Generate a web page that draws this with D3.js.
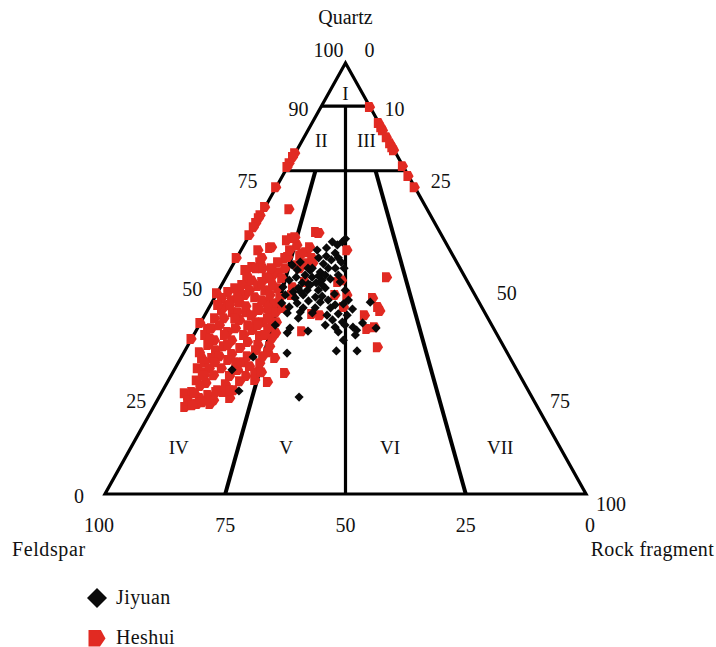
<!DOCTYPE html>
<html>
<head>
<meta charset="utf-8">
<script src="https://cdn.jsdelivr.net/npm/d3@7"></script>
<style>
  html, body { margin: 0; padding: 0; background: #fff; }
  svg text { font-family: "Liberation Serif", "DejaVu Serif", serif; fill: #111; }
</style>
</head>
<body>
<svg id="chart" width="716" height="647"></svg>
<script>
// QFR ternary diagram: Quartz (top), Feldspar (left), Rock fragment (right). Values are [Q, F, R] in %.

const seriesNames = ["Jiyuan", "Heshui"];

const jiyuanData = [
  [58.5,23.5,18.0],[57.8,22.8,19.4],[58.5,21.4,20.1],[59.2,20.4,20.4],[57.1,25.4,17.5],[56.6,27.6,15.8],
  [55.9,24.2,19.9],[54.3,25.8,19.9],[54.8,28.2,17.0],[53.4,27.9,18.7],[53.8,24.0,22.2],[52.4,31.6,16.0],
  [52.0,34.0,14.0],[51.5,29.5,19.0],[50.8,33.0,16.2],[50.3,31.8,17.9],[49.0,31.6,19.4],[49.9,28.2,21.9],
  [50.8,26.1,23.1],[49.2,26.5,24.3],[49.0,34.5,16.5],[48.7,33.4,17.9],[47.8,35.9,16.3],[48.0,39.0,13.0],
  [47.3,34.3,18.4],[47.3,32.0,20.7],[47.8,30.3,21.9],[46.9,37.4,15.7],[46.2,35.7,18.1],[45.7,33.4,20.9],
  [46.2,39.4,14.4],[46.4,29.1,24.5],[44.8,35.3,19.9],[44.3,37.9,17.8],[43.4,40.0,16.6],[44.5,33.0,22.5],
  [44.3,41.1,14.6],[43.2,37.2,19.6],[43.2,34.7,22.1],[43.9,30.2,25.9],[44.1,28.4,27.5],[42.9,27.1,30.0],
  [42.0,35.9,22.1],[42.0,41.1,16.9],[40.8,39.4,19.8],[41.5,33.1,25.4],[41.8,30.6,27.6],[40.4,32.5,27.1],
  [39.9,30.7,29.4],[39.2,34.6,26.2],[38.7,32.8,28.5],[39.2,30.5,30.3],[38.7,29.1,32.2],[39.7,26.6,33.7],
  [38.0,28.7,33.3],[39.2,45.0,15.8],[38.5,42.3,19.2],[37.8,38.9,23.3],[37.4,43.4,19.2],[37.6,32.7,29.7],
  [36.9,29.5,33.6],[44.5,22.6,32.9],[38.5,24.4,37.1],[33.2,35.3,31.5],[33.2,31.0,35.8],[32.7,45.8,21.5],
  [22.5,48.4,29.1],[31.8,53.3,14.9],[28.8,59.2,12.0],[23.9,60.2,15.9],[53.8,32.5,13.7],[55.2,26.4,18.4],
  [52.4,27.4,20.2],[53.1,34.5,12.4],[54.8,24.1,21.1],[52.4,24.1,23.5],[47.3,26.4,26.3],[45.0,26.9,28.1],
  [41.5,28.9,29.6],[35.7,32.6,31.7],[50.3,35.1,14.6],[49.6,36.9,13.5],[42.2,38.3,19.5],[45.9,31.9,22.2],
  [43.2,31.5,25.3],[51.9,31.4,16.7],[49.6,30.1,20.3],[45.0,31.1,23.9],[52.4,25.9,21.7],
  [48.5,33.1,18.4],[50.6,30.3,19.1],[46.9,35.9,17.2],[52.4,30.7,16.9],[50.8,28.8,20.4],[45.5,37.7,16.8],
  [48.5,30.6,20.9]
];

const heshuiData = [
  // quartz–feldspar side
  [79.1,20.9,0],[78.2,21.8,0],[76.8,23.2,0],[75.9,24.1,0],[71.2,28.8,0],[66.6,33.4,0],[64.7,35.3,0],
  [64.0,36.0,0],[62.9,37.1,0],[61.9,38.1,0],[60.1,39.9,0],[54.8,45.2,0],[46.6,53.4,0],[39.7,60.3,0],[36.0,64.0,0],
  // quartz–rock fragment side
  [89.8,0,10.2],[86.1,0,13.9],[85.1,0,14.9],[84.4,0,15.6],[82.8,0,17.2],[81.4,0,18.6],[80.5,0,19.5],
  [79.8,0,20.2],[76.1,0,23.9],[73.8,0,26.2],[71.2,0,28.8],
  // interior
  [66.1,28.6,5.3],[57.3,36.6,6.1],[56.6,39.8,3.6],[53.8,40.8,5.4],[52.7,43.0,4.3],[50.8,45.0,4.2],[52.4,42.2,5.4],
  [58.9,32.7,8.4],[59.4,31.4,9.2],[60.8,25.7,13.5],[60.6,25.1,14.3],[57.3,28.7,14.0],[56.1,30.1,13.8],[57.1,37.1,5.8],
  [54.8,39.9,5.3],[52.4,40.9,6.7],[50.8,39.6,9.6],[51.5,38.2,10.3],[52.4,36.3,11.3],[53.1,33.3,13.6],[53.6,31.2,15.2],
  [54.8,29.5,15.7],[55.4,31.7,12.9],[57.8,31.1,11.1],[55.0,34.4,10.6],[50.1,38.1,11.8],[50.3,41.2,8.5],[49.2,45.6,5.2],
  [46.9,48.8,4.3],[44.5,49.7,5.8],[42.2,52.3,5.5],[42.2,49.4,8.4],[43.2,46.7,10.1],[44.5,44.0,11.5],[43.9,43.1,13.0],
  [41.5,44.9,13.6],[39.9,44.3,15.8],[39.9,47.2,12.9],[48.0,36.9,15.1],[49.2,33.8,17.0],[49.6,25.9,24.5],[56.6,21.3,22.1],
  [49.2,26.9,23.9],[46.2,29.0,24.8],[46.2,26.5,27.3],[43.4,28.6,28.0],[41.5,25.2,33.3],[45.5,21.5,33.0],[43.4,21.5,35.1],
  [42.5,21.5,36.0],[38.7,24.5,36.8],[38.3,26.3,35.4],[34.1,26.2,39.7],[50.3,16.2,33.5],[37.8,40.1,22.1],[41.8,36.0,22.2],
  [41.5,34.5,24.0],[59.6,30.6,9.8],[55.9,31.0,13.1],[54.8,35.1,10.1],[52.4,39.1,8.5],[50.1,41.0,8.9],[46.2,38.0,15.8],
  [44.3,42.5,13.2],[43.2,44.4,12.4],[39.2,45.6,15.2],[36.2,47.1,16.7],[32.9,49.6,17.5],[31.6,48.8,19.6],[28.1,48.5,23.4],
  [26.0,53.1,20.9],[30.4,52.5,17.1],[22.3,62.8,14.9],[43.8,52.7,3.5],[38.3,59.4,2.3],[31.6,64.0,4.4],[29.2,66.1,4.7],
  [26.4,67.7,5.9],[23.0,71.2,5.8],[23.0,67.0,10.0],[24.1,64.4,11.5],[20.2,73.2,6.6],[23.4,71.7,4.9],[53.6,29.9,16.5],
  [52.4,33.2,14.4],
  [45.5,52.9,1.6],[46.9,50.9,2.2],[47.8,49.0,3.2],[48.5,47.2,4.3],[49.6,44.6,5.8],[48.3,44.0,7.7],[47.3,43.0,9.7],
  [46.2,47.7,6.1],[45.0,51.1,3.9],[45.7,45.9,8.4],[45.0,44.8,10.2],[46.2,42.5,11.3],[47.8,40.1,12.1],[48.5,40.8,10.7],
  [40.8,56.7,2.5],[42.7,54.3,3.0],[43.9,52.0,4.1],[42.2,51.2,6.6],[43.6,48.8,7.6],[41.5,48.7,9.8],[42.7,46.4,10.9],
  [40.8,45.7,13.5],[42.2,43.3,14.5],[40.8,54.8,4.4],[40.4,51.7,7.9],[39.9,48.6,11.5],[43.2,41.5,15.3],
  [36.9,60.7,2.4],[38.5,58.5,3.0],[39.2,56.5,4.3],[37.6,55.6,6.8],[38.5,53.5,8.0],[36.9,52.6,10.5],[38.1,50.3,11.6],
  [36.7,49.4,13.9],[38.5,46.8,14.7],[37.4,45.7,16.9],[35.7,59.3,5.0],[35.7,55.7,8.6],[35.3,52.6,12.1],[34.6,50.8,14.6],
  [32.9,63.8,3.3],[34.6,61.2,4.2],[33.4,60.2,6.4],[34.3,58.1,7.6],[32.5,57.3,10.2],[33.9,54.9,11.2],[32.0,54.3,13.7],
  [33.4,51.9,14.7],[32.0,51.1,16.9],[31.6,61.9,6.5],[31.1,58.8,10.1],[30.6,55.8,13.6],[34.3,48.5,17.2],[30.6,63.9,5.5],
  [28.3,65.5,6.2],[29.2,63.6,7.2],[27.6,63.5,8.9],[29.2,61.1,9.7],[27.4,60.3,12.3],[28.8,57.9,13.3],[27.4,56.9,15.7],
  [25.8,66.0,8.2],[25.5,62.1,12.4],[26.2,58.8,15.0],[28.3,54.6,17.1],
  [23.7,70.0,6.3],[25.1,67.6,7.3],[23.7,63.4,12.9],[24.1,61.1,14.8],[22.3,69.1,8.6],[21.8,66.4,11.8],
  [20.9,70.3,8.8],[21.3,69.0,9.7],[21.8,71.8,6.4],
  [43.9,54.5,1.6],[47.3,46.2,6.5],[49.2,42.7,8.1],[40.8,52.5,6.7],[39.2,50.6,10.2],[34.6,57.1,8.3],
  [36.2,60.0,3.8],[29.7,55.0,15.3],[30.6,57.4,12.0],[32.0,60.1,7.9],[27.6,65.4,7.0],[23.7,65.0,11.3],
  [23.4,69.6,7.0],[30.6,61.8,7.6],[24.1,61.9,14.0],[20.9,67.6,11.5],[20.6,71.4,8.0],[36.9,56.6,6.5],
  [39.2,48.5,12.3],[45.5,49.5,5.0],[45.5,40.8,13.7],[36.9,48.2,14.9],[26.5,55.5,18.0],[28.3,53.2,18.5],
  [52.0,44.8,3.2],[53.8,37.1,9.1],[56.6,33.2,10.2]
];

// Side labels (percent values written along each edge)
const quartzTicks = [100, 90, 75, 50, 25, 0];        // left edge, quartz %
const rockTicks = [0, 10, 25, 50, 75, 100];          // right edge, rock fragment %
const feldsparTicks = [100, 75, 50, 25, 0];          // bottom edge, feldspar %

// Classification fields and their label points [Q, F, R]
const fieldNames = ["I", "II", "III", "IV", "V", "VI", "VII"];
const fieldLabelPoints = [
  [92.8, 3.6, 3.6], [81.9, 14.1, 4.0], [81.9, 4.7, 13.4],
  [10.7, 79.3, 10.0], [10.7, 57.0, 32.3], [10.7, 35.4, 53.9], [10.7, 12.5, 76.8]
];

// Boundary segments between fields, endpoints in [Q, F, R]
const boundaries = [
  [[90, 10, 0], [90, 0, 10]],
  [[75, 25, 0], [75, 0, 25]],
  [[90, 5, 5], [0, 50, 50]],
  [[75, 18.75, 6.25], [0, 75, 25]],
  [[75, 6.25, 18.75], [0, 25, 75]]
];

const svg = d3.select("#chart");

// Horizontal position follows R + Q/2, vertical follows Q.
const x = d3.scaleLinear().domain([0, 100]).range([105, 586]);
const y = d3.scaleLinear().domain([0, 100]).range([494, 63]);
const px = d => x(d[2] + d[0] / 2);
const py = d => y(d[0]);

const lineGen = d3.line().x(px).y(py);

// Outer triangle
svg.append("path")
  .attr("d", lineGen([[100, 0, 0], [0, 100, 0], [0, 0, 100]]) + "Z")
  .attr("fill", "none").attr("stroke", "#000").attr("stroke-width", 3.2)
  .attr("stroke-linejoin", "miter").attr("stroke-miterlimit", 20);

// Field boundaries
svg.append("g").selectAll("path").data(boundaries).join("path")
  .attr("d", d => lineGen(d))
  .attr("fill", "none").attr("stroke", "#000")
  .attr("stroke-width", (d, i) => i >= 3 ? 4 : 3.2);

// Field labels
svg.append("g").selectAll("text").data(fieldNames).join("text")
  .attr("x", (d, i) => px(fieldLabelPoints[i]))
  .attr("y", (d, i) => py(fieldLabelPoints[i]) + 6)
  .attr("text-anchor", "middle").attr("font-size", 19)
  .text(d => d);

// Edge labels
const fs = 20;
const leftOffsets = [[-2, -6], [-13, 10], [-28, 17], [-23, 17], [-19, 22], [-21, 9]];
svg.append("g").selectAll("text").data(quartzTicks).join("text")
  .attr("x", (d, i) => px([d, 100 - d, 0]) + leftOffsets[i][0])
  .attr("y", (d, i) => py([d, 100 - d, 0]) + leftOffsets[i][1])
  .attr("text-anchor", "end").attr("font-size", fs)
  .text(d => d);

const rightOffsets = [[19, -6], [15, 10], [25, 17], [31, 21], [24, 22], [10, 17]];
svg.append("g").selectAll("text").data(rockTicks).join("text")
  .attr("x", (d, i) => px([100 - d, 0, d]) + rightOffsets[i][0])
  .attr("y", (d, i) => py([100 - d, 0, d]) + rightOffsets[i][1])
  .attr("text-anchor", "start").attr("font-size", fs)
  .text(d => d);

const bottomShift = [-6, 0, 0, 0, 4];
svg.append("g").selectAll("text").data(feldsparTicks).join("text")
  .attr("x", (d, i) => px([0, d, 100 - d]) + bottomShift[i])
  .attr("y", (d, i) => py([0, d, 100 - d]) + 38)
  .attr("text-anchor", "middle").attr("font-size", fs)
  .text(d => d);

// Corner titles
svg.append("text").attr("x", px([100, 0, 0])).attr("y", 24)
  .attr("text-anchor", "middle").attr("font-size", fs).text("Quartz");
svg.append("text").attr("x", 12).attr("y", 556)
  .attr("text-anchor", "start").attr("font-size", fs).attr("letter-spacing", 0.6).text("Feldspar");
svg.append("text").attr("x", 714).attr("y", 556)
  .attr("text-anchor", "end").attr("font-size", fs).attr("letter-spacing", 0.3).text("Rock fragment");

// Marker shapes
function diamondPath(r) {
  return `M0,${-r}L${r},0L0,${r}L${-r},0Z`;
}
function pentagonPath(r) {
  const pts = [[-1, -0.95], [0.45, -0.95], [1, 0.05], [0.35, 1], [-1, 1]];
  return "M" + pts.map(p => `${(p[0] * r).toFixed(2)},${(p[1] * r).toFixed(2)}`).join("L") + "Z";
}

const colors = { Jiyuan: "#0a0a0a", Heshui: "#e12a22" };

// Heshui samples
svg.append("g").selectAll("path").data(heshuiData).join("path")
  .attr("transform", d => `translate(${px(d)},${py(d)})`)
  .attr("d", pentagonPath(5.1))
  .attr("fill", colors.Heshui);

// Jiyuan samples
svg.append("g").selectAll("path").data(jiyuanData).join("path")
  .attr("transform", d => `translate(${px(d)},${py(d)})`)
  .attr("d", diamondPath(4.6))
  .attr("fill", colors.Jiyuan);

// Legend
const legend = svg.append("g");
const legendRows = legend.selectAll("g").data(seriesNames).join("g")
  .attr("transform", (d, i) => `translate(97,${598 + i * 40})`);
legendRows.append("path")
  .attr("d", (d, i) => i === 0 ? diamondPath(10) : pentagonPath(8.5))
  .attr("fill", d => colors[d]);
legendRows.append("text")
  .attr("x", 19).attr("y", 6).attr("font-size", fs).attr("letter-spacing", 0.4)
  .text(d => d);
</script>
</body>
</html>
